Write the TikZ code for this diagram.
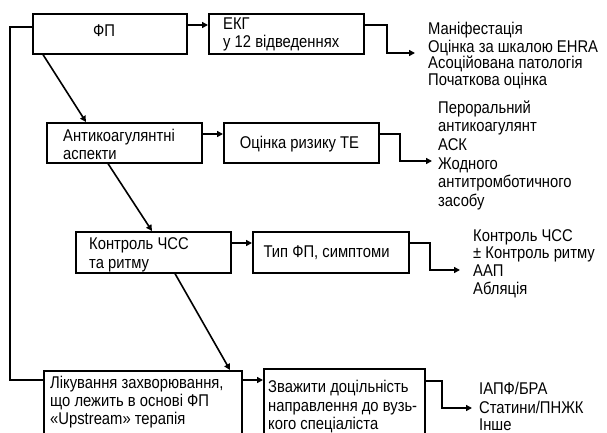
\documentclass[tikz,border=0pt]{standalone}
\usepackage{fontspec}
\setmainfont{Liberation Sans}[FakeStretch=0.87]
\usetikzlibrary{arrows.meta,calc}

\begin{document}
\begin{tikzpicture}[x=1pt,y=-1pt,
  box/.style={draw,line width=1.6pt,inner sep=0pt,anchor=north west},
  txt/.style={inner sep=0pt,anchor=north west,align=left,font=\fontsize{17}{#1}\selectfont},
  ctxt/.style={inner sep=0pt,anchor=base,font=\fontsize{17}{18}\selectfont},
  link/.style={line width=1.6pt},
  arr/.style={line width=1.6pt,-{Triangle[length=6pt,width=6pt]}},
]
\useasboundingbox (0,0) rectangle (607,432);
\clip (0,0) rectangle (607,432);

% boxes
\node[box,minimum width=154,minimum height=40] (fp)    at (32,13)  {};
\node[box,minimum width=155,minimum height=40] (ecg)   at (208,13) {};
\node[box,minimum width=155,minimum height=40] (anti)  at (46,122) {};
\node[box,minimum width=155,minimum height=40] (risk)  at (223,122) {};
\node[box,minimum width=155,minimum height=41] (ctrl)  at (75,231) {};
\node[box,minimum width=156,minimum height=41] (type)  at (252,231) {};
\node[box,minimum width=198,minimum height=70] (treat) at (43,370) {};
\node[box,minimum width=161,minimum height=72] (refer) at (263,368) {};

% box texts
\node[ctxt] (fpText) at (104,36) {ФП};
\node[txt=17] (ecgText) at (223,17) {\strut ЕКГ\\у 12 відведеннях};
\node[txt=18] (antiText) at (63,128.5) {\strut Антикоагулянтні\\аспекти};
\node[ctxt] (riskText) at (299.5,148) {Оцінка ризику ТЕ};
\node[txt=19] (ctrlText) at (89,235.8) {\strut Контроль ЧСС\\та ритму};
\node[ctxt] (typeText) at (326.5,257.5) {Тип ФП, симптоми};
\node[txt=18.3] (treatText) at (50,375) {\strut Лікування захворювання,\\що лежить в основі ФП\\«Upstream» терапія};
\node[txt=18.2] (referText) at (268,380) {\strut Зважити доцільність\\направлення до вузь-\\кого спеціаліста};

% result lists
\node[txt=16.5] (list1) at (428,21.5) {\strut Маніфестація\\Оцінка за шкалою EHRA\\Асоційована патологія\\Початкова оцінка};
\node[txt=18.6] (list2) at (438,100) {\strut Пероральний\\антикоагулянт\\АСК\\Жодного\\антитромботичного\\засобу};
\node[txt=17.7] (list3) at (473,228.6) {\strut Контроль ЧСС\\± Контроль ритму\\ААП\\Абляція};
\node[txt=17.2] (list4) at (479,382) {\strut ІАПФ/БРА\\Статини/ПНЖК\\Інше};

% elbow points and arrow ends of the outputs
\coordinate (e1) at (387,53);   \coordinate (e1tip) at (415,53);
\coordinate (e2) at (400,161);  \coordinate (e2tip) at (432,161);
\coordinate (e3) at (430,270);  \coordinate (e3tip) at (460,270);
\coordinate (e4) at (442,408);  \coordinate (e4tip) at (472,408);
\coordinate (fb) at (10,380);

% horizontal arrows between boxes
\draw[arr] ([yshift=-12pt]fp.north east) -- ([yshift=-12pt]fp.north east -| ecg.west);
\draw[arr] ([yshift=-12pt]anti.north east) -- ([yshift=-12pt]anti.north east -| risk.west);
\draw[arr] ([yshift=-12pt]ctrl.north east) -- ([yshift=-12pt]ctrl.north east -| type.west);
\draw[arr] ([yshift=-10pt]treat.north east) -- ([yshift=-10pt]treat.north east -| refer.west);

% outputs to the lists
\draw[arr] ([yshift=-12pt]ecg.north east) -| (e1) -- (e1tip);
\draw[arr] ([yshift=-12pt]risk.north east) -| (e2) -- (e2tip);
\draw[arr] ([yshift=-12pt]type.north east) -| (e3) -- (e3tip);
\draw[arr] ([yshift=-13pt]refer.north east) -| (e4) -- (e4tip);

% diagonal steps down the chain
\draw[arr] ($(fp.south west)+(11,0)$) -- ($(anti.north west)+(40,0)$);
\draw[arr] ($(anti.south west)+(62,0)$) -- ($(ctrl.north west)+(77,0)$);
\draw[arr] ($(ctrl.south west)+(100,0)$) -- ($(treat.north west)+(187,0)$);

% feedback line on the left
\draw[link] ([yshift=-14pt]fp.north west) -| (fb) -- ([yshift=-10pt]treat.north west);
\end{tikzpicture}
\end{document}
